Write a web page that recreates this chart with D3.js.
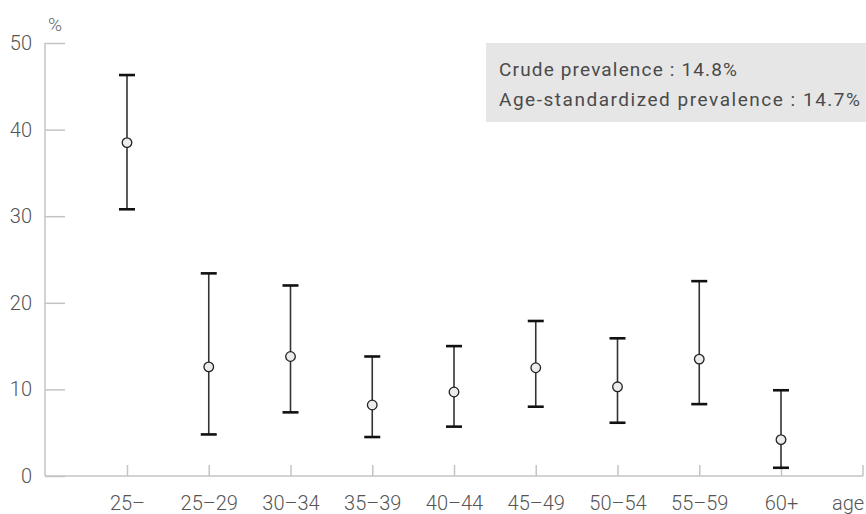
<!DOCTYPE html>
<html>
<head>
<meta charset="utf-8">
<script src="https://cdn.jsdelivr.net/npm/d3@7"></script>
<style>
  html, body { margin: 0; padding: 0; background: #fff; }
  svg { display: block; }
  .tick text { font-family: Roboto, "Noto Sans", sans-serif; font-weight: 300; fill: #555; }
</style>
</head>
<body>
<svg id="chart" width="866" height="514"></svg>
<script>
// Age groups and prevalence (%) with 95% confidence limits
const ageGroups = ["25\u2013", "25\u201329", "30\u201334", "35\u201339", "40\u201344", "45\u201349", "50\u201354", "55\u201359", "60+"];
const prevalence = [38.5, 12.6, 13.8, 8.2, 9.7, 12.5, 10.3, 13.5, 4.2];
const lowerCI   = [30.8, 4.8, 7.35, 4.5, 5.7, 8.0, 6.15, 8.3, 0.95];
const upperCI   = [46.3, 23.4, 22.0, 13.8, 15.0, 17.9, 15.9, 22.5, 9.9];
const yTicks = [0, 10, 20, 30, 40, 50];
const summaryLines = ["Crude prevalence : 14.8%", "Age-standardized prevalence : 14.7%"];
const summaryWidths = [238, 361];

const svg = d3.select("#chart");
const axisLeftX = 45, axisRightX = 863;
const y = d3.scaleLinear().domain([0, 50]).range([476, 43]);
const x = d3.scalePoint().domain(ageGroups).range([127, 781]);

// Summary box
const box = svg.append("g");
box.append("rect").attr("x", 486).attr("y", 43).attr("width", 380).attr("height", 79).attr("fill", "#e6e6e6");
box.selectAll("text").data(summaryLines).join("text")
  .attr("x", 499).attr("y", (d, i) => 76 + i * 30)
  .attr("font-family", "Roboto, 'Noto Sans', sans-serif")
  .attr("font-size", 19).attr("fill", "#4a4a4a")
  .attr("textLength", (d, i) => summaryWidths[i]).attr("lengthAdjust", "spacing")
  .text(d => d);

// Y axis
const gy = svg.append("g").attr("transform", `translate(${axisLeftX},0)`)
  .call(d3.axisLeft(y).tickValues(yTicks).tickSize(-20).tickPadding(13));
gy.select(".domain").remove();
gy.selectAll(".tick line").attr("stroke", "#c4c4c4").attr("stroke-width", 1.5);
gy.selectAll(".tick text").attr("font-size", 20);
svg.append("line").attr("x1", axisLeftX).attr("x2", axisLeftX).attr("y1", y(50)).attr("y2", y(0))
  .attr("stroke", "#c4c4c4").attr("stroke-width", 1.5);
svg.append("text").attr("x", 55).attr("y", 31).attr("text-anchor", "middle")
  .attr("font-family", "Roboto, 'Noto Sans', sans-serif").attr("font-weight", 300)
  .attr("font-size", 19).attr("fill", "#666").text("%");

// X axis
const gx = svg.append("g").attr("transform", `translate(0,${y(0)})`)
  .call(d3.axisBottom(x).tickSize(-11).tickPadding(20));
gx.select(".domain").remove();
gx.selectAll(".tick line").attr("stroke", "#c4c4c4").attr("stroke-width", 1.5);
gx.selectAll(".tick text").attr("font-size", 20);
svg.append("line").attr("x1", axisLeftX).attr("x2", axisRightX).attr("y1", y(0)).attr("y2", y(0))
  .attr("stroke", "#c4c4c4").attr("stroke-width", 1.5);
svg.append("line").attr("x1", axisRightX).attr("x2", axisRightX).attr("y1", y(0)).attr("y2", y(0) - 11)
  .attr("stroke", "#c4c4c4").attr("stroke-width", 1.5);
svg.append("text").attr("x", 832).attr("y", 510)
  .attr("font-family", "Roboto, 'Noto Sans', sans-serif").attr("font-weight", 300)
  .attr("font-size", 20).attr("fill", "#555").text("age");

// Error bars with point estimates
const rows = ageGroups.map((g, i) => ({ g, p: prevalence[i], lo: lowerCI[i], hi: upperCI[i] }));
const bars = svg.append("g").selectAll("g").data(rows).join("g");
bars.append("line")
  .attr("x1", d => x(d.g)).attr("x2", d => x(d.g))
  .attr("y1", d => y(d.lo)).attr("y2", d => y(d.hi))
  .attr("stroke", "#333").attr("stroke-width", 1.6);
["lo", "hi"].forEach(k => {
  bars.append("line")
    .attr("x1", d => x(d.g) - 8).attr("x2", d => x(d.g) + 8)
    .attr("y1", d => y(d[k])).attr("y2", d => y(d[k]))
    .attr("stroke", "#111").attr("stroke-width", 2.6);
});
bars.append("circle")
  .attr("cx", d => x(d.g)).attr("cy", d => y(d.p)).attr("r", 4.8)
  .attr("fill", "#ececec").attr("stroke", "#222").attr("stroke-width", 1.3);
</script>
</body>
</html>
